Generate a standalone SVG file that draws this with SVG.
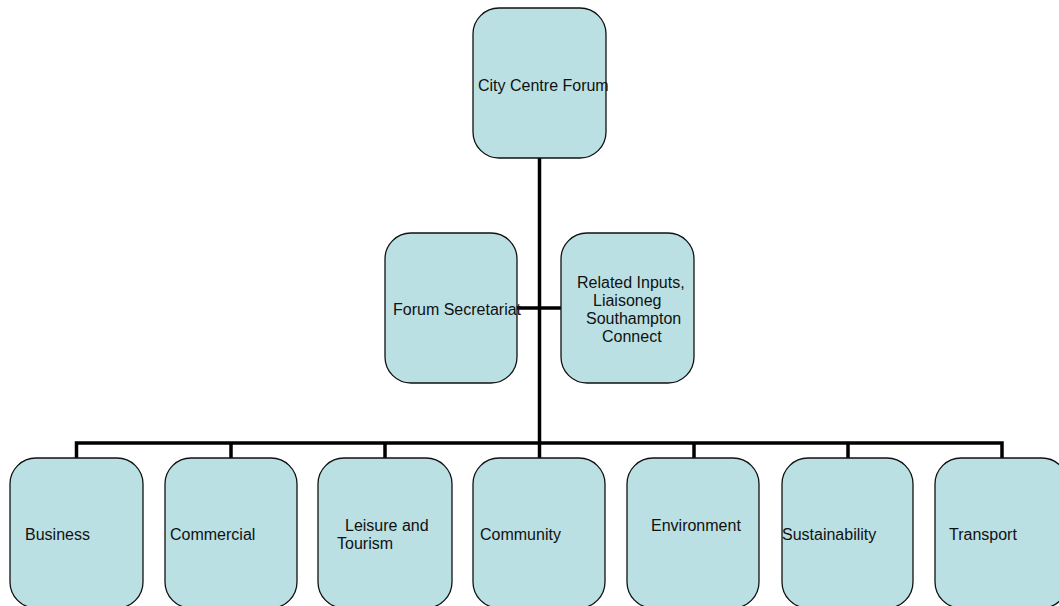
<svg xmlns="http://www.w3.org/2000/svg" width="1059" height="606" viewBox="0 0 1059 606">
<style>
.box{fill:#bae0e3;stroke:#111;stroke-width:1.3}
.lbl{font-family:"Liberation Sans",Arial,sans-serif;font-size:16px;fill:#111}
.conn{stroke:#000;stroke-width:3.5;fill:none}
</style>
<rect width="1059" height="606" fill="#fff"/>
<g id="connectors">
<line class="conn" x1="539.5" y1="158" x2="539.5" y2="443"/>
<line class="conn" x1="517" y1="308" x2="561" y2="308"/>
<polyline class="conn" points="76.5,458 76.5,443 1002,443 1002,458"/>
<line class="conn" x1="231" y1="443" x2="231" y2="458"/>
<line class="conn" x1="385" y1="443" x2="385" y2="458"/>
<line class="conn" x1="539.5" y1="443" x2="539.5" y2="458"/>
<line class="conn" x1="694" y1="443" x2="694" y2="458"/>
<line class="conn" x1="848" y1="443" x2="848" y2="458"/>
</g>
<g id="city-centre-forum">
<rect class="box" x="473" y="8" width="133" height="150" rx="26"/>
<text class="lbl" x="478" y="91">City Centre Forum</text>
</g>
<g id="forum-secretariat">
<rect class="box" x="385" y="233" width="132" height="150" rx="26"/>
<text class="lbl" x="393" y="315">Forum Secretariat</text>
</g>
<g id="related-inputs">
<rect class="box" x="561" y="233" width="133" height="150" rx="26"/>
<text class="lbl" x="577" y="288">Related Inputs,</text>
<text class="lbl" x="593" y="306">Liaisoneg</text>
<text class="lbl" x="586" y="324">Southampton</text>
<text class="lbl" x="602" y="342">Connect</text>
</g>
<g id="business">
<rect class="box" x="10" y="458" width="133" height="150" rx="26"/>
<text class="lbl" x="25" y="540">Business</text>
</g>
<g id="commercial">
<rect class="box" x="165" y="458" width="132" height="150" rx="26"/>
<text class="lbl" x="170" y="540">Commercial</text>
</g>
<g id="leisure-and-tourism">
<rect class="box" x="318" y="458" width="134" height="150" rx="26"/>
<text class="lbl" x="345" y="531">Leisure and</text>
<text class="lbl" x="337" y="549">Tourism</text>
</g>
<g id="community">
<rect class="box" x="473" y="458" width="132" height="150" rx="26"/>
<text class="lbl" x="480" y="540">Community</text>
</g>
<g id="environment">
<rect class="box" x="627" y="458" width="132" height="150" rx="26"/>
<text class="lbl" x="651" y="531">Environment</text>
</g>
<g id="sustainability">
<rect class="box" x="782" y="458" width="131" height="150" rx="26"/>
<text class="lbl" x="782" y="540">Sustainability</text>
</g>
<g id="transport">
<rect class="box" x="935" y="458" width="133" height="150" rx="26"/>
<text class="lbl" x="949" y="540">Transport</text>
</g>
</svg>
